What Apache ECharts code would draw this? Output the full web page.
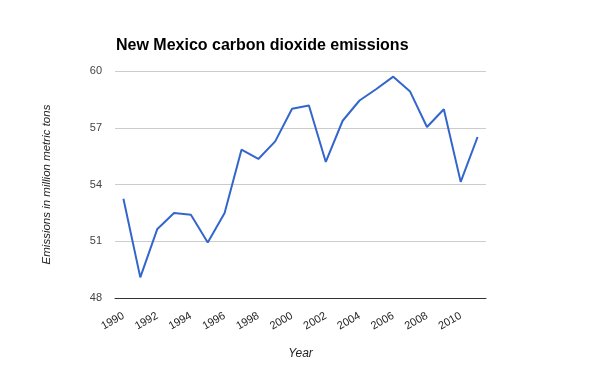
<!DOCTYPE html>
<html><head><meta charset="utf-8">
<script src="https://cdn.jsdelivr.net/npm/echarts@6/dist/echarts.min.js"></script>
<style>html,body{margin:0;padding:0;background:#fff}#c{width:600px;height:371px}</style>
</head><body><div id="c"></div>
<script>
const years = ['1990','1991','1992','1993','1994','1995','1996','1997','1998','1999','2000','2001','2002','2003','2004','2005','2006','2007','2008','2009','2010','2011'];
const emissions = [53.25,49.09,51.63,52.49,52.40,50.93,52.49,55.84,55.35,56.28,58.00,58.18,55.19,57.37,58.44,59.05,59.70,58.91,57.04,57.98,54.14,56.51];
const title = 'New Mexico carbon dioxide emissions';
const yName = 'Emissions in million metric tons';
const xName = 'Year';
const font = 'Arial, "Liberation Sans", sans-serif';
const chart = echarts.init(document.getElementById('c'));
chart.setOption({
  animation: false,
  title: {text: title, left: 111, top: 33, textStyle: {fontFamily: font, fontSize: 16, fontWeight: 'bold', color: '#000'}},
  grid: {left: 115, right: 114, top: 71, bottom: 73},
  xAxis: {
    type: 'category', data: years, boundaryGap: true,
    name: xName, nameLocation: 'middle', nameGap: 50,
    nameTextStyle: {fontFamily: font, fontSize: 12, fontStyle: 'italic', color: '#222'},
    axisLine: {lineStyle: {color: '#333', width: 1}},
    axisTick: {show: false},
    axisLabel: {interval: 1, rotate: 30, fontFamily: font, fontSize: 11, color: '#222', margin: 17}
  },
  yAxis: {
    type: 'value', min: 48, max: 60, interval: 3,
    name: yName, nameLocation: 'middle', nameRotate: 90, nameGap: 62,
    nameTextStyle: {fontFamily: font, fontSize: 11.5, fontStyle: 'italic', color: '#222'},
    axisLine: {show: false}, axisTick: {show: false},
    axisLabel: {fontFamily: font, fontSize: 11, color: '#444', margin: 13},
    splitLine: {lineStyle: {color: '#ccc', width: 1}}
  },
  series: [{type: 'line', data: emissions, symbol: 'none', lineStyle: {color: '#3366cc', width: 2}}]
});
</script></body></html>
